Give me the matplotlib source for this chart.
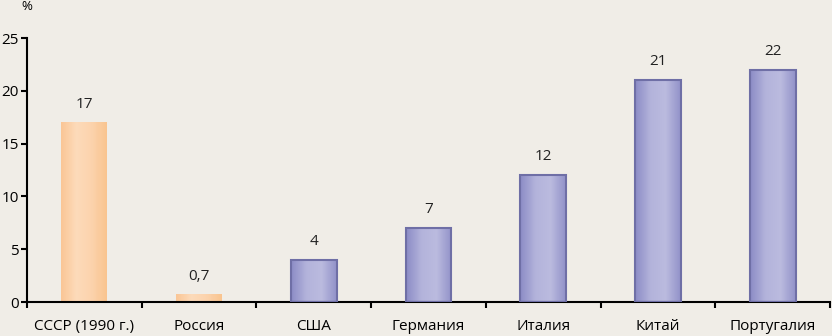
import numpy as np
import matplotlib.pyplot as plt
from matplotlib.colors import LinearSegmentedColormap

countries = ["СССР (1990 г.)", "Россия", "США", "Германия", "Италия", "Китай", "Португалия"]
values = [17, 0.7, 4, 7, 12, 21, 22]
labels = ["17", "0,7", "4", "7", "12", "21", "22"]
is_orange = [True, True, False, False, False, False, False]

bg = "#F0EDE7"
orange_cmap = LinearSegmentedColormap.from_list("o", ["#FAC696", "#FDDBBA", "#FCD3AD", "#F9C48F"])
blue_cmap = LinearSegmentedColormap.from_list("b", ["#8C8CC6", "#B3B3DB", "#BBBBDF", "#9292C9"])

plt.rcParams["font.family"] = ["Open Sans", "DejaVu Sans"]
fs = 11
fig = plt.figure(figsize=(8.32, 3.36), dpi=100, facecolor=bg)
ax = fig.add_axes([27 / 832, 34 / 336, 803 / 832, 264 / 336], facecolor=bg)

x = np.arange(len(countries))
w = 0.4
grad = np.linspace(0, 1, 64).reshape(1, -1)
for xi, v, orange in zip(x, values, is_orange):
    cmap = orange_cmap if orange else blue_cmap
    ax.imshow(grad, cmap=cmap, extent=[xi - w / 2, xi + w / 2, 0, v],
              aspect="auto", zorder=2, interpolation="bicubic")
    if not orange:
        ax.bar(xi, v, width=w, facecolor="none", edgecolor="#6F6FA6", linewidth=1.5, zorder=3)

for xi, v, lab in zip(x, values, labels):
    ax.text(xi, v + 1.75, lab, ha="center", va="center", fontsize=fs, color="#222222")

ax.set_xlim(-0.5, len(countries) - 0.5)
ax.set_ylim(0, 25)
ax.set_yticks([0, 5, 10, 15, 20, 25])
ax.set_xticks(np.arange(len(countries) + 1) - 0.5)
ax.set_xticklabels([])
ax.set_xticks(x, minor=True)
ax.set_xticklabels(countries, minor=True)
ax.tick_params(axis="x", which="minor", length=0, pad=12, labelsize=fs)
ax.tick_params(axis="x", which="major", length=4, width=1.5, direction="out")
ax.tick_params(axis="y", length=4, width=1.5, labelsize=fs, pad=2)
for s in ["top", "right"]:
    ax.spines[s].set_visible(False)
for s in ["left", "bottom"]:
    ax.spines[s].set_linewidth(1.5)
fig.text(27 / 832, 1 - 6 / 336, "%", ha="center", va="center", fontsize=fs - 1.5)

fig.savefig("out.png", dpi=100, facecolor=bg)
